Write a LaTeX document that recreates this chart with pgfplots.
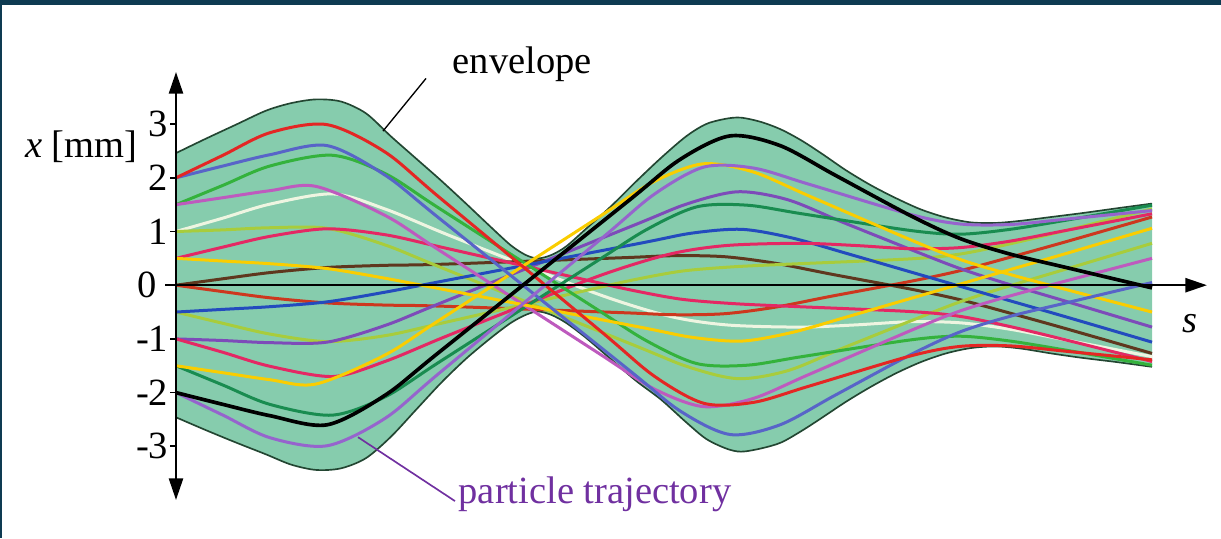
\documentclass[border=0pt]{standalone}
\usepackage{fontspec}
\setmainfont{Liberation Serif}
\usepackage{pgfplots}
\usepackage{pgfplotstable}
\pgfplotsset{compat=1.18}
\usepgfplotslibrary{fillbetween}
\usetikzlibrary{arrows.meta}

\definecolor{beam}{RGB}{134,204,173}
\definecolor{edge}{RGB}{35,70,50}
\definecolor{frame}{RGB}{14,59,82}
\definecolor{cRed}{RGB}{228,38,36}
\definecolor{cSlate}{RGB}{88,100,200}
\definecolor{cGreen}{RGB}{52,178,60}
\definecolor{cOrchid}{RGB}{190,90,190}
\definecolor{cWhite}{RGB}{238,245,225}
\definecolor{cLime}{RGB}{168,204,60}
\definecolor{cCrimson}{RGB}{228,40,100}
\definecolor{cGold}{RGB}{250,205,0}
\definecolor{cBrown}{RGB}{95,55,30}
\definecolor{cPurple}{RGB}{150,100,205}
\definecolor{cSea}{RGB}{25,140,80}
\definecolor{cViolet}{RGB}{125,75,185}
\definecolor{cRoyal}{RGB}{35,75,190}
\definecolor{cRust}{RGB}{205,55,30}
\definecolor{cLabel}{RGB}{112,48,160}

% beam envelope, upper and lower edge (s in px from the x-axis origin, x in mm)
\pgfplotstableread{
s x
0 2.46
30 2.73
60 2.99
90 3.25
115 3.39
140 3.46
165 3.42
190 3.20
215 2.77
240 2.36
265 1.95
290 1.52
315 1.08
335 0.74
350 0.56
362 0.50
375 0.56
390 0.72
410 1.05
435 1.47
460 1.93
485 2.37
510 2.77
530 3.00
550 3.10
565 3.12
585 3.04
605 2.90
625 2.70
645 2.46
670 2.14
695 1.86
720 1.62
745 1.41
770 1.26
795 1.17
820 1.16
845 1.20
875 1.27
905 1.34
940 1.43
976 1.52
}\envup
\pgfplotstableread{
s x
0 -2.46
30 -2.70
60 -2.93
90 -3.15
115 -3.34
140 -3.44
165 -3.41
190 -3.22
215 -2.82
240 -2.32
265 -1.82
290 -1.37
315 -0.98
335 -0.70
350 -0.55
362 -0.49
375 -0.55
390 -0.70
410 -0.98
435 -1.38
460 -1.78
485 -2.13
510 -2.55
530 -2.86
550 -3.04
565 -3.10
585 -3.04
605 -2.93
625 -2.72
645 -2.48
670 -2.17
695 -1.89
720 -1.64
745 -1.43
770 -1.27
795 -1.17
820 -1.14
845 -1.18
875 -1.27
905 -1.35
940 -1.43
976 -1.52
}\envlo

\begin{document}
\fontsize{11.55pt}{13.9pt}\selectfont
\begin{tikzpicture}
\begin{axis}[
  at={(49.5pt,11.4pt)}, anchor=south west,
  scale only axis, width=312.6pt, height=128.4pt,
  xmin=-11, xmax=1031, ymin=-4.0, ymax=3.97,
  axis lines=middle,
  axis on top,
  clip=false,
  axis line style={line width=0.75pt, black},
  x axis line style={-{Triangle[length=6.5pt,width=4.2pt]}},
  y axis line style={{Triangle[length=6.5pt,width=4.2pt]}-{Triangle[length=6.5pt,width=4.2pt]}},
  xtick=\empty,
  ytick={-3,-2,-1,1,2,3},
  yticklabels={-3,-2,-1,1,2,3},
  major tick length=1.8pt,
  tick align=outside,
  ytick style={line width=0.5pt, black},
  yticklabel style={anchor=east, xshift=3.5pt},
  traj/.style={smooth, tension=0.5, line width=0.9pt, mark=none},
]
% filled envelope
\addplot[name path=up, draw=none, smooth, tension=0.5] table[x=s, y=x] {\envup};
\addplot[name path=lo, draw=none, smooth, tension=0.5] table[x=s, y=x] {\envlo};
\addplot[beam, draw=none] fill between[of=up and lo];
\addplot[edge, line width=0.5pt, smooth, tension=0.5] table[x=s, y=x] {\envup};
\addplot[edge, line width=0.5pt, smooth, tension=0.5] table[x=s, y=x] {\envlo};

% particle trajectories (pairs start at +-x0 with opposite slopes)
\addplot[traj, cWhite] coordinates {(0,1.0) (47,1.25) (94,1.51) (157,1.70) (209,1.42) (265,0.99) (324,0.55) (424,-0.18) (494,-0.58) (551,-0.74) (624,-0.78) (679,-0.74) (734,-0.68) (784,-0.70) (834,-0.82) (890,-1.02) (976,-1.33)};
\addplot[traj, cBrown] coordinates {(0,0) (47,0.12) (94,0.235) (151,0.33) (209,0.37) (265,0.39) (444,0.51) (499,0.55) (549,0.53) (599,0.41) (654,0.21) (734,-0.07) (784,-0.27) (834,-0.52) (890,-0.81) (976,-1.27)};
\addplot[traj, cRust] coordinates {(0,0) (47,-0.12) (94,-0.235) (151,-0.33) (209,-0.37) (265,-0.39) (444,-0.51) (499,-0.55) (549,-0.53) (599,-0.41) (654,-0.21) (734,0.07) (784,0.27) (834,0.52) (890,0.81) (976,1.27)};
\addplot[traj, cLime] coordinates {(0,1.0) (47,1.03) (94,1.07) (151,1.06) (209,0.75) (265,0.33) (457,-1.11) (512,-1.52) (562,-1.74) (612,-1.59) (667,-1.17) (734,-0.67) (784,-0.31) (834,-0.01) (890,0.30) (976,0.78)};
\addplot[traj, cLime] coordinates {(0,-0.5) (47,-0.71) (94,-0.91) (151,-1.05) (209,-0.94) (265,-0.71) (400,-0.14) (455,0.09) (505,0.26) (555,0.34) (610,0.39) (734,0.49) (784,0.58) (834,0.77) (890,1.02) (976,1.42)};
\addplot[traj, cViolet] coordinates {(0,-1.0) (47,-1.03) (94,-1.07) (151,-1.06) (209,-0.75) (265,-0.33) (457,1.11) (512,1.52) (562,1.74) (612,1.59) (667,1.17) (734,0.67) (784,0.31) (834,0.01) (890,-0.30) (976,-0.78)};
\addplot[traj, cRoyal] coordinates {(0,-0.5) (47,-0.45) (94,-0.40) (151,-0.31) (209,-0.13) (265,0.07) (461,0.77) (516,0.97) (566,1.04) (616,0.88) (671,0.59) (734,0.25) (784,-0.02) (834,-0.29) (890,-0.59) (976,-1.06)};
\addplot[traj, cCrimson] coordinates {(0,0.5) (47,0.71) (94,0.91) (151,1.05) (209,0.94) (265,0.71) (400,0.14) (455,-0.09) (505,-0.26) (555,-0.34) (610,-0.39) (734,-0.49) (784,-0.58) (834,-0.77) (890,-1.02) (976,-1.42)};
\addplot[traj, cCrimson] coordinates {(0,-1.0) (47,-1.25) (94,-1.51) (157,-1.70) (209,-1.42) (265,-0.99) (324,-0.55) (424,0.18) (494,0.58) (551,0.74) (624,0.78) (679,0.74) (734,0.68) (784,0.70) (834,0.82) (890,1.02) (976,1.33)};
\addplot[traj, cGreen] coordinates {(0,1.5) (47,1.86) (94,2.22) (156,2.42) (209,2.08) (265,1.41) (416,-0.39) (471,-1.04) (521,-1.46) (571,-1.49) (626,-1.33) (734,-1.02) (784,-0.95) (834,-1.04) (890,-1.21) (976,-1.49)};
\addplot[traj, cSea] coordinates {(0,-1.5) (47,-1.86) (94,-2.22) (156,-2.42) (209,-2.08) (265,-1.41) (416,0.39) (471,1.04) (521,1.46) (571,1.49) (626,1.33) (734,1.02) (784,0.95) (834,1.04) (890,1.21) (976,1.49)};
\addplot[traj, cOrchid] coordinates {(0,1.5) (47,1.63) (94,1.76) (140,1.84) (209,1.30) (265,0.63) (422,-1.26) (477,-1.92) (527,-2.26) (577,-2.11) (632,-1.67) (734,-0.85) (784,-0.48) (834,-0.2) (890,0.08) (976,0.5)};
\addplot[traj, cGold] coordinates {(0,0.5) (47,0.45) (94,0.40) (151,0.31) (209,0.13) (265,-0.07) (461,-0.77) (516,-0.97) (566,-1.04) (616,-0.88) (671,-0.59) (734,-0.25) (784,0.02) (834,0.29) (890,0.59) (976,1.06)};
\addplot[traj, cGold] coordinates {(0,-1.5) (47,-1.63) (94,-1.76) (140,-1.84) (209,-1.30) (265,-0.63) (422,1.26) (477,1.92) (527,2.26) (577,2.11) (632,1.67) (734,0.85) (784,0.48) (834,0.2) (890,-0.08) (976,-0.5)};
\addplot[traj, cSlate] coordinates {(0,2.0) (47,2.22) (94,2.43) (151,2.6) (209,2.05) (265,1.22) (449,-1.52) (504,-2.34) (554,-2.78) (604,-2.6) (659,-2.05) (734,-1.3) (784,-0.87) (834,-0.58) (890,-0.33) (976,0.05)};
\addplot[traj, cRed] coordinates {(0,2.0) (47,2.42) (94,2.84) (151,2.99) (209,2.48) (265,1.61) (423,-0.83) (478,-1.69) (528,-2.20) (578,-2.18) (633,-1.88) (734,-1.32) (784,-1.14) (834,-1.13) (890,-1.23) (976,-1.39)};
\addplot[traj, cPurple] coordinates {(0,-2.0) (47,-2.42) (94,-2.84) (151,-2.99) (209,-2.48) (265,-1.61) (423,0.83) (478,1.69) (528,2.20) (578,2.18) (633,1.88) (734,1.32) (784,1.14) (834,1.13) (890,1.23) (976,1.39)};
\addplot[traj, black, line width=1.1pt] coordinates {(0,-2.0) (47,-2.22) (94,-2.43) (151,-2.6) (209,-2.05) (265,-1.22) (449,1.52) (504,2.34) (554,2.78) (604,2.6) (659,2.05) (734,1.3) (784,0.87) (834,0.58) (890,0.33) (976,-0.05)};

% annotations
\draw[black, line width=0.4pt] (axis cs:207,2.87) -- (axis cs:250,3.85);
\node[anchor=base west, inner sep=0pt] at (axis cs:276,3.95) {envelope};
\draw[cLabel, line width=0.5pt] (axis cs:182,-2.83) -- (axis cs:279,-4.02);
\node[anchor=base west, inner sep=0pt, text=cLabel] at (axis cs:282,-4.06) {particle trajectory};
\node[anchor=base east, inner sep=0pt] at (axis cs:-38,2.38) {\textit{x} [mm]};
\node[anchor=east, inner sep=0pt] at (axis cs:-19,0) {0};
\node[anchor=center, inner sep=0pt] at (axis cs:1014,-0.71) {\textit{s}};
\end{axis}
% page frame: thin rule at the left, band along the top
\fill[frame] (0,159.9pt) rectangle (366.3pt,161.4pt);
\fill[frame] (0,0) rectangle (0.45pt,161.4pt);
\pgfresetboundingbox
\path[use as bounding box] (0,0) rectangle (366.3pt,161.4pt);
\end{tikzpicture}
\end{document}
